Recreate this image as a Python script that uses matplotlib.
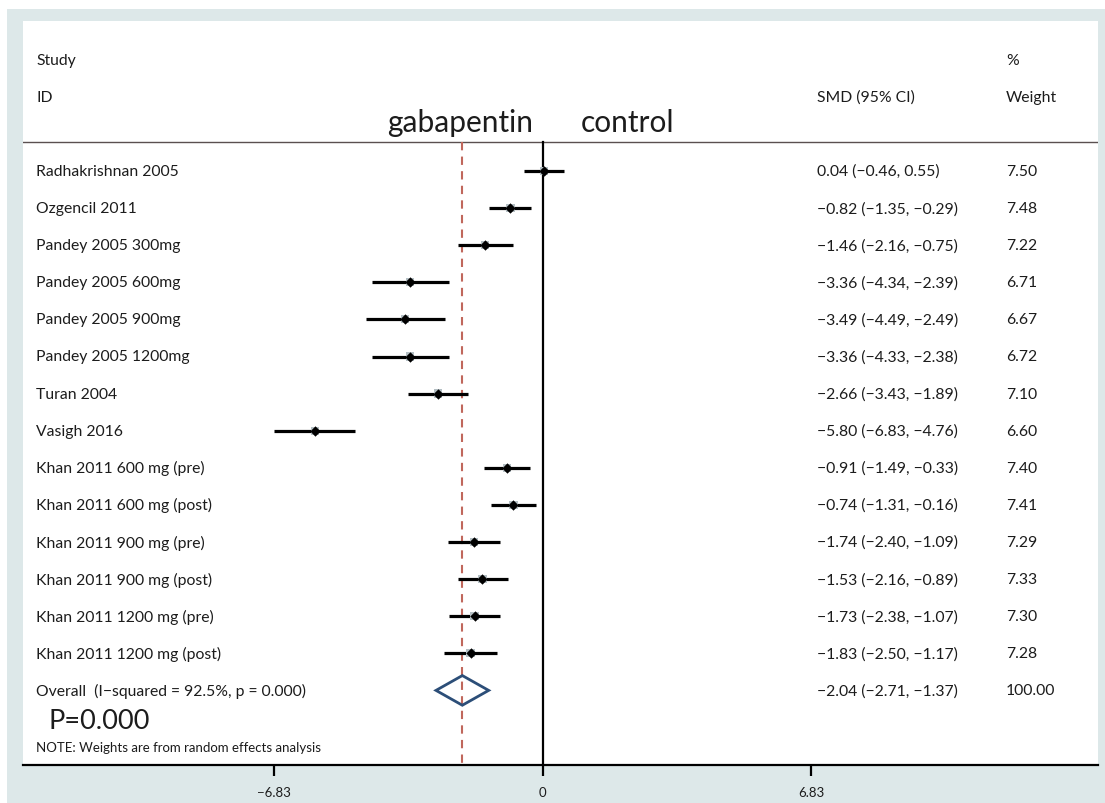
# =========================================
# IMPORT LIBRARY
# =========================================
import numpy as np
import matplotlib
matplotlib.use("Agg")
import matplotlib.pyplot as plt
from matplotlib.patches import Polygon, Rectangle

plt.rcParams["font.family"] = ["Lato", "DejaVu Sans"]

# =========================================
# DATA
# =========================================
studies = [
    "Radhakrishnan 2005",
    "Ozgencil 2011",
    "Pandey 2005 300mg",
    "Pandey 2005 600mg",
    "Pandey 2005 900mg",
    "Pandey 2005 1200mg",
    "Turan 2004",
    "Vasigh 2016",
    "Khan 2011 600 mg (pre)",
    "Khan 2011 600 mg (post)",
    "Khan 2011 900 mg (pre)",
    "Khan 2011 900 mg (post)",
    "Khan 2011 1200 mg (pre)",
    "Khan 2011 1200 mg (post)",
]
smd = [0.04, -0.82, -1.46, -3.36, -3.49, -3.36, -2.66, -5.80,
       -0.91, -0.74, -1.74, -1.53, -1.73, -1.83]
ci_low = [-0.46, -1.35, -2.16, -4.34, -4.49, -4.33, -3.43, -6.83,
          -1.49, -1.31, -2.40, -2.16, -2.38, -2.50]
ci_high = [0.55, -0.29, -0.75, -2.39, -2.49, -2.38, -1.89, -4.76,
           -0.33, -0.16, -1.09, -0.89, -1.07, -1.17]
weights = [7.50, 7.48, 7.22, 6.71, 6.67, 6.72, 7.10, 6.60,
           7.40, 7.41, 7.29, 7.33, 7.30, 7.28]

overall_label = "Overall  (I\u2212squared = 92.5%, p = 0.000)"
overall_smd = -2.04
overall_low = -2.71
overall_high = -1.37
overall_weight = 100.00

x_ticks = [-6.83, 0, 6.83]


def fmt(v):
    return f"{v:.2f}".replace("-", "\u2212")


# =========================================
# FIGURE
# =========================================
W, H = 1105, 804
fig = plt.figure(figsize=(W / 100, H / 100), dpi=100)
fig.patch.set_facecolor("#dde8e9")
# white strips top and left (outside the grey frame)
fig.patches.append(Rectangle((0, 1 - 10 / H), 1, 10 / H, transform=fig.transFigure,
                             facecolor="white", edgecolor="none", zorder=0))
fig.patches.append(Rectangle((0, 0), 7 / W, 1, transform=fig.transFigure,
                             facecolor="white", edgecolor="none", zorder=0))

# axes = white panel, pixel 23..1098 x 22..766
left, right, top, bottom = 23, 1098, 22, 766
ax = fig.add_axes([left / W, 1 - bottom / H, (right - left) / W, (bottom - top) / H])
ax.set_facecolor("white")

# scale: 0 at px 542.5, 39.3 px per unit ; rows at 172 + 37.1*i
x0_px, px_unit = 542.5, 39.3
row0_px, row_px = 172, 37.1
ax.set_xlim((left - x0_px) / px_unit, (right - x0_px) / px_unit)
ax.set_ylim((bottom - row0_px) / row_px, (top - row0_px) / row_px)


def ypos(px):
    return (px - row0_px) / row_px


def xpos(px):
    return (px - x0_px) / px_unit


n = len(studies)
rows = np.arange(n)
y_head = ypos(143)
y_bot = ax.get_ylim()[0]
txt_col = "#1c1c1c"

# =========================================
# LINES
# =========================================
ax.axhline(y_head, color="#5a5050", lw=1.0, zorder=1)
ax.plot([0, 0], [y_head, y_bot], color="black", lw=1.6, zorder=2)
ax.plot([overall_smd, overall_smd], [y_head, y_bot], color="#c0675c",
        lw=1.5, dashes=(4, 3), zorder=2)

# =========================================
# STUDIES
# =========================================
for i in range(n):
    ax.plot([ci_low[i], ci_high[i]], [i, i], color="black", lw=2.3,
            solid_capstyle="butt", zorder=3)
ax.scatter(smd, rows, marker="s", s=np.array(weights) * 5, color="#b4bfc4",
           zorder=3.5, linewidths=0)
ax.scatter(smd, rows, marker="D", s=28, color="black", zorder=4, linewidths=0)

# overall diamond
yo = n
diamond = Polygon([[overall_low, yo], [overall_smd, yo - 0.4],
                   [overall_high, yo], [overall_smd, yo + 0.4]],
                  closed=True, fill=False, edgecolor="#2c4e78", lw=2.0, zorder=4)
ax.add_patch(diamond)

# =========================================
# TEXT
# =========================================
x_lab = xpos(36)
x_smd = xpos(817)
x_w = xpos(1006)
fs = 11.3

ax.text(x_lab, ypos(61), "Study", fontsize=fs, va="center", color=txt_col)
ax.text(x_lab, ypos(98), "ID", fontsize=fs, va="center", color=txt_col)
ax.text(x_w, ypos(61), "%", fontsize=fs, va="center", color=txt_col)
ax.text(x_smd, ypos(98), "SMD (95% CI)", fontsize=fs, va="center", color=txt_col)
ax.text(x_w, ypos(98), "Weight", fontsize=fs, va="center", color=txt_col)

ax.text(xpos(460), ypos(123), "gabapentin", fontsize=21.5, ha="center", va="center",
        color=txt_col)
ax.text(xpos(628), ypos(123), "control", fontsize=21.5, ha="center", va="center",
        color=txt_col)

for i in range(n):
    ax.text(x_lab, i, studies[i], fontsize=fs, va="center", color=txt_col)
    ax.text(x_smd, i, f"{fmt(smd[i])} ({fmt(ci_low[i])}, {fmt(ci_high[i])})",
            fontsize=fs, va="center", color=txt_col)
    ax.text(x_w, i, f"{weights[i]:.2f}", fontsize=fs, va="center", color=txt_col)

ax.text(x_lab, yo, overall_label, fontsize=fs, va="center", color=txt_col)
ax.text(x_smd, yo, f"{fmt(overall_smd)} ({fmt(overall_low)}, {fmt(overall_high)})",
        fontsize=fs, va="center", color=txt_col)
ax.text(x_w, yo, f"{overall_weight:.2f}", fontsize=fs, va="center", color=txt_col)

ax.text(xpos(48), ypos(722), "P=0.000", fontsize=19.5, va="center", color=txt_col)
ax.text(x_lab, ypos(748), "NOTE: Weights are from random effects analysis",
        fontsize=9.5, va="center", color=txt_col)

# =========================================
# AXIS
# =========================================
for s in ["top", "left", "right"]:
    ax.spines[s].set_visible(False)
ax.spines["bottom"].set_linewidth(1.6)
ax.set_yticks([])
ax.set_xticks(x_ticks)
ax.set_xticklabels([fmt(t) if t != 0 else "0" for t in x_ticks], fontsize=9.5,
                   color=txt_col)
ax.tick_params(axis="x", length=8, width=1.6, pad=7)

fig.savefig("out.png", dpi=100, facecolor=fig.get_facecolor())
